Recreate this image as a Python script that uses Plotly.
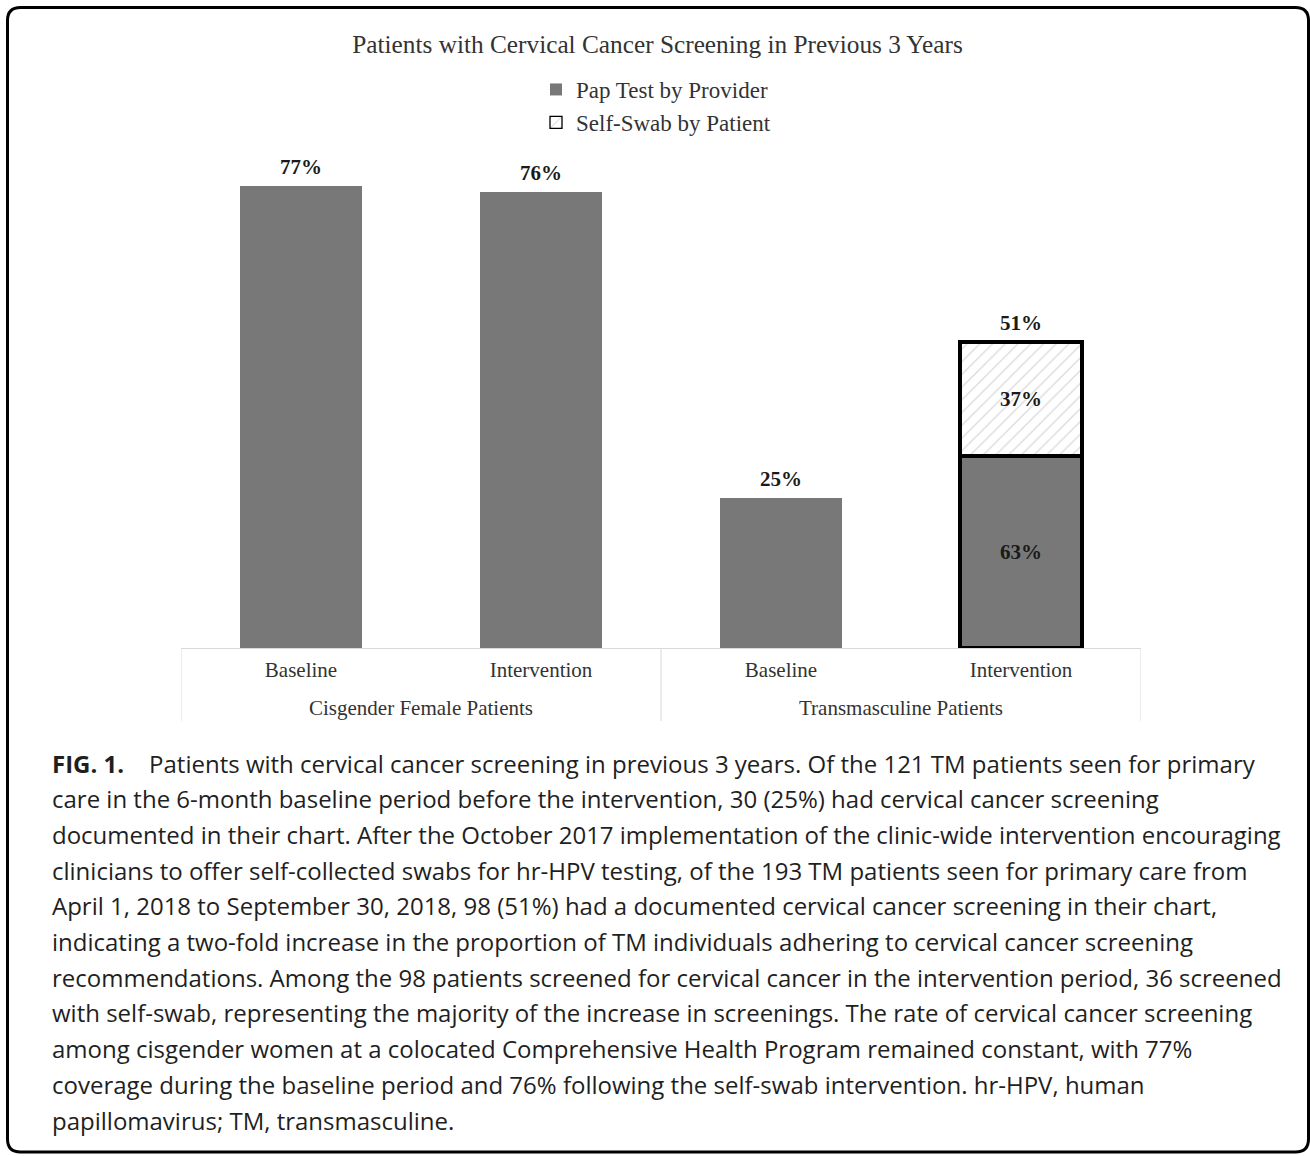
import plotly.graph_objects as go

# ---------------- data ----------------
groups = ["Cisgender Female Patients", "Cisgender Female Patients",
          "Transmasculine Patients", "Transmasculine Patients"]
periods = ["Baseline", "Intervention", "Baseline", "Intervention"]
pap_values = [77, 76, 25, 32]             # height of Pap Test segment (% of patients)
selfswab_values = [None, None, None, 19]  # height of Self-Swab segment
total_values = [77, 76, 25, 51]
total_labels = ["77%", "76%", "25%", "51%"]
pap_segment_labels = ["", "", "", "63%"]
selfswab_segment_labels = ["", "", "", "37%"]

title_text = "Patients with Cervical Cancer Screening in Previous 3 Years"
caption_lines = [
    "<b>FIG. 1.</b>\u00a0\u00a0\u00a0\u00a0Patients with cervical cancer screening in previous 3 years. Of the 121 TM patients seen for primary",
    "care in the 6-month baseline period before the intervention, 30 (25%) had cervical cancer screening",
    "documented in their chart. After the October 2017 implementation of the clinic-wide intervention encouraging",
    "clinicians to offer self-collected swabs for hr-HPV testing, of the 193 TM patients seen for primary care from",
    "April 1, 2018 to September 30, 2018, 98 (51%) had a documented cervical cancer screening in their chart,",
    "indicating a two-fold increase in the proportion of TM individuals adhering to cervical cancer screening",
    "recommendations. Among the 98 patients screened for cervical cancer in the intervention period, 36 screened",
    "with self-swab, representing the majority of the increase in screenings. The rate of cervical cancer screening",
    "among cisgender women at a colocated Comprehensive Health Program remained constant, with 77%",
    "coverage during the baseline period and 76% following the self-swab intervention. hr-HPV, human",
    "papillomavirus; TM, transmasculine.",
]

# ---------------- layout geometry ----------------
W, H = 1310, 1156
ML, MR, MT, MB = 181, 169, 48, 508
PW, PH = W - ML - MR, H - MT - MB

def px2x(px):
    return (px - ML) / PW

def py2y(py):
    return (MT + PH - py) / PH

SERIF = "Liberation Serif, Times New Roman, serif"
SANS = "Open Sans, Noto Sans, sans-serif"
BAR_GRAY = "#787878"
TEXT_DARK = "#1a1a1a"

# unique category keys (group + period); tick text shows only the period
cat_keys = [f"{g} | {p}" for g, p in zip(groups, periods)]

fig = go.Figure()
fig.add_trace(go.Bar(
    name="Pap Test by Provider",
    x=cat_keys, y=pap_values,
    marker=dict(color=BAR_GRAY, line=dict(color="black", width=[0, 0, 0, 4])),
    text=pap_segment_labels, textposition="inside", insidetextanchor="middle",
    textfont=dict(family=SERIF, size=21, color=TEXT_DARK, weight="bold"),
    hoverinfo="skip",
))
fig.add_trace(go.Bar(
    name="Self-Swab by Patient",
    x=cat_keys, y=selfswab_values,
    marker=dict(color="white", line=dict(color="black", width=[1.3, 1.3, 1.3, 4]),
                pattern=dict(shape="/", fgcolor="#b5b5b5", bgcolor="white",
                             size=9, solidity=0.15)),
    text=selfswab_segment_labels, textposition="inside", insidetextanchor="middle",
    textfont=dict(family=SERIF, size=21, color=TEXT_DARK, weight="bold"),
    hoverinfo="skip",
))
fig.add_trace(go.Scatter(
    x=cat_keys, y=total_values, mode="markers+text",
    text=total_labels, textposition="top center",
    marker=dict(size=10, opacity=0),
    textfont=dict(family=SERIF, size=21, color=TEXT_DARK, weight="bold"),
    showlegend=False, hoverinfo="skip", cliponaxis=False,
))

annotations = []
shapes = []

# group labels and dividers derived from the group list
group_names = []
for g in groups:
    if g not in group_names:
        group_names.append(g)
boundaries = [-0.5]
for g in group_names:
    idx = [i for i, gg in enumerate(groups) if gg == g]
    annotations.append(dict(
        text=g, xref="x", yref="paper", x=sum(idx) / len(idx), y=py2y(708),
        xanchor="center", yanchor="middle", showarrow=False,
        font=dict(family=SERIF, size=21, color="#333333"),
    ))
    boundaries.append(max(idx) + 0.5)
for b in boundaries:
    shapes.append(dict(type="line", xref="x", yref="paper", x0=b, x1=b,
                       y0=0, y1=py2y(721), line=dict(color="#d9d9d9", width=1)))

# caption
y0 = 763
step = 35.7
for i, line in enumerate(caption_lines):
    annotations.append(dict(
        text=line, xref="paper", yref="paper",
        x=px2x(50), y=py2y(y0 + i * step), xanchor="left", yanchor="middle",
        showarrow=False, align="left",
        font=dict(family=SANS, size=24, color="#1f1f1f"),
    ))

# rounded border
bx0, by0, bx1, by1, r = 7.5, 7.5, 1308.5, 1152, 13
path = (f"M {px2x(bx0 + r)},{py2y(by0)} L {px2x(bx1 - r)},{py2y(by0)} "
        f"Q {px2x(bx1)},{py2y(by0)} {px2x(bx1)},{py2y(by0 + r)} "
        f"L {px2x(bx1)},{py2y(by1 - r)} "
        f"Q {px2x(bx1)},{py2y(by1)} {px2x(bx1 - r)},{py2y(by1)} "
        f"L {px2x(bx0 + r)},{py2y(by1)} "
        f"Q {px2x(bx0)},{py2y(by1)} {px2x(bx0)},{py2y(by1 - r)} "
        f"L {px2x(bx0)},{py2y(by0 + r)} "
        f"Q {px2x(bx0)},{py2y(by0)} {px2x(bx0 + r)},{py2y(by0)} Z")
shapes.append(dict(type="path", path=path, xref="paper", yref="paper",
                   line=dict(color="black", width=3), fillcolor="rgba(0,0,0,0)",
                   layer="above"))

fig.update_layout(
    width=W, height=H,
    margin=dict(l=ML, r=MR, t=MT, b=MB, pad=0),
    paper_bgcolor="white", plot_bgcolor="white",
    barmode="stack", bargap=0.49,
    title=dict(text=title_text, x=657.5 / W, xanchor="center",
               y=1 - 44 / H, yanchor="middle", yref="container",
               font=dict(family=SERIF, size=25.3, color="#333333")),
    legend=dict(x=0.5 - 5 / PW, xanchor="center", y=py2y(68), yanchor="top",
                orientation="v", traceorder="normal",
                font=dict(family=SERIF, size=23, color="#333333"),
                bgcolor="rgba(0,0,0,0)", itemwidth=30, tracegroupgap=0),
    xaxis=dict(type="category", categoryorder="array", categoryarray=cat_keys,
               tickvals=cat_keys, ticktext=periods,
               showline=True, linecolor="#d9d9d9", linewidth=1,
               showgrid=False, ticks="", ticklabelstandoff=3,
               tickfont=dict(family=SERIF, size=21, color="#333333"),
               range=[-0.5, len(cat_keys) - 0.5]),
    yaxis=dict(visible=False, range=[0, 100], showgrid=False, zeroline=False),
    annotations=annotations,
    shapes=shapes,
    showlegend=True,
)

fig.write_html("out.html", config={"displayModeBar": False},
               post_script="document.body.style.margin='0';document.body.style.overflow='hidden';")
